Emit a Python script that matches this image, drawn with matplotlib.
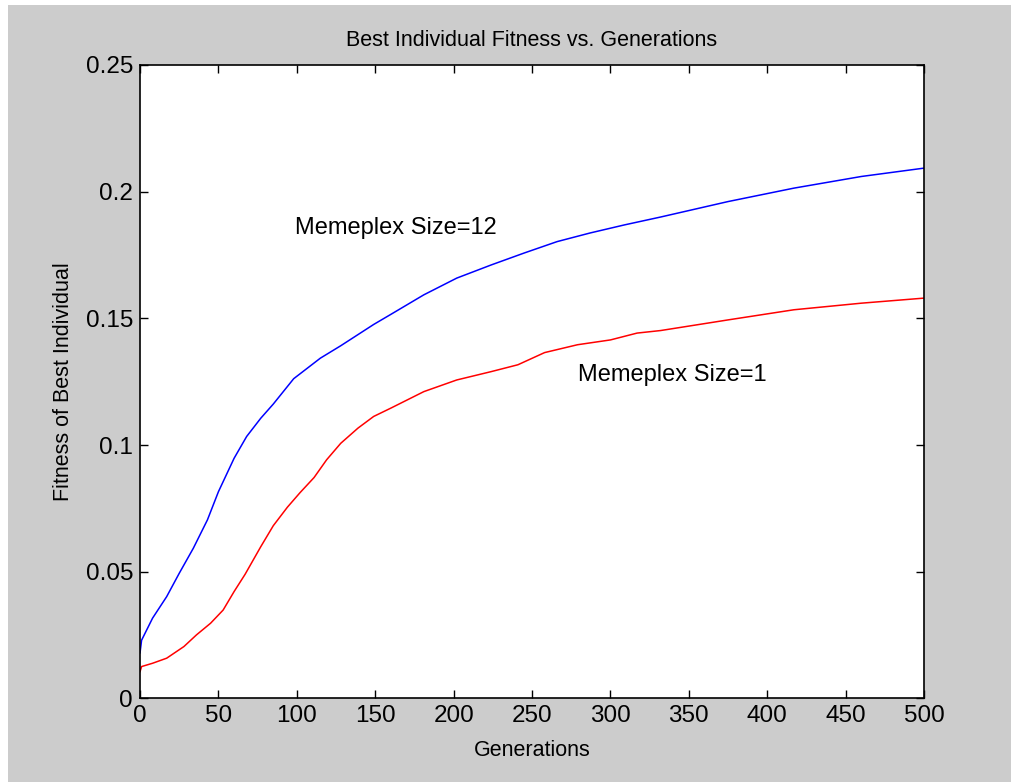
import matplotlib
matplotlib.use("Agg")
import matplotlib.pyplot as plt
from matplotlib.patches import Rectangle
from matplotlib.ticker import FuncFormatter

# Best fitness per generation, memeplex size 12
gens_12 = [0, 1, 8, 17, 25, 34, 43, 50, 60, 68, 77, 85, 98, 115, 128, 140,
           149, 160, 181, 202, 224, 245, 266, 287, 309, 332, 375, 417, 460,
           500]
fit_12 = [0.018, 0.023, 0.0317, 0.0402, 0.0494, 0.0593, 0.0705, 0.0816,
          0.0948, 0.1034, 0.1106, 0.1162, 0.1262, 0.1343, 0.1392, 0.1440,
          0.1476, 0.1516, 0.1593, 0.1659, 0.1711, 0.1758, 0.1803, 0.1837,
          0.1869, 0.190, 0.1961, 0.2014, 0.206, 0.2093]

# Best fitness per generation, memeplex size 1
gens_1 = [0, 1, 8, 17, 28, 36, 45, 53, 60, 67, 77, 85, 94, 102, 111, 119,
          128, 139, 149, 160, 181, 202, 224, 241, 258, 279, 300, 317, 332,
          375, 417, 460, 500]
fit_1 = [0.0106, 0.0126, 0.0139, 0.0159, 0.0205, 0.0251, 0.0297, 0.0349,
         0.0422, 0.049, 0.0599, 0.0682, 0.0755, 0.0812, 0.0872, 0.0942,
         0.1007, 0.1067, 0.1113, 0.1146, 0.1211, 0.1257, 0.129, 0.1317,
         0.1365, 0.1396, 0.1415, 0.1442, 0.1452, 0.1494, 0.1534, 0.156,
         0.158]

x_ticks = list(range(0, 501, 50))
y_ticks = [0, 0.05, 0.1, 0.15, 0.2, 0.25]

plt.rcParams['font.family'] = ['Liberation Sans']

fig = plt.figure(figsize=(10.11, 7.82), dpi=100, facecolor='white')
# matlab-style grey figure background
fig.patches.append(Rectangle((8 / 1011, 0), 1003 / 1011, 777 / 782,
                             transform=fig.transFigure, facecolor='#cccccc',
                             edgecolor='none', zorder=-10))

ax = fig.add_axes([0.1385, 0.1068, 0.7755, 0.8101])
ax.plot(gens_12, fit_12, color='#0000ff', lw=1.1)
ax.plot(gens_1, fit_1, color='#ff0000', lw=1.1)

ax.set_xlim(0, 500)
ax.set_ylim(0, 0.25)
ax.set_xticks(x_ticks)
ax.set_yticks(y_ticks)
ax.yaxis.set_major_formatter(FuncFormatter(lambda v, p: '%g' % v))
ax.tick_params(direction='in', length=6, width=1, top=True, right=True,
               labelsize=17.5, pad=5)
for s in ax.spines.values():
    s.set_linewidth(1.2)

ax.text(99, 0.1857, 'Memeplex Size=12', fontsize=17, va='center', ha='left')
ax.text(279, 0.1277, 'Memeplex Size=1', fontsize=17, va='center', ha='left')

ax.set_title('Best Individual Fitness vs. Generations', fontsize=15.5, pad=14)
ax.set_xlabel('Generations', fontsize=15.5, labelpad=9)
ax.set_ylabel('Fitness of Best Individual', fontsize=15.5, labelpad=8)

fig.savefig('out.png', dpi=100, facecolor=fig.get_facecolor())
